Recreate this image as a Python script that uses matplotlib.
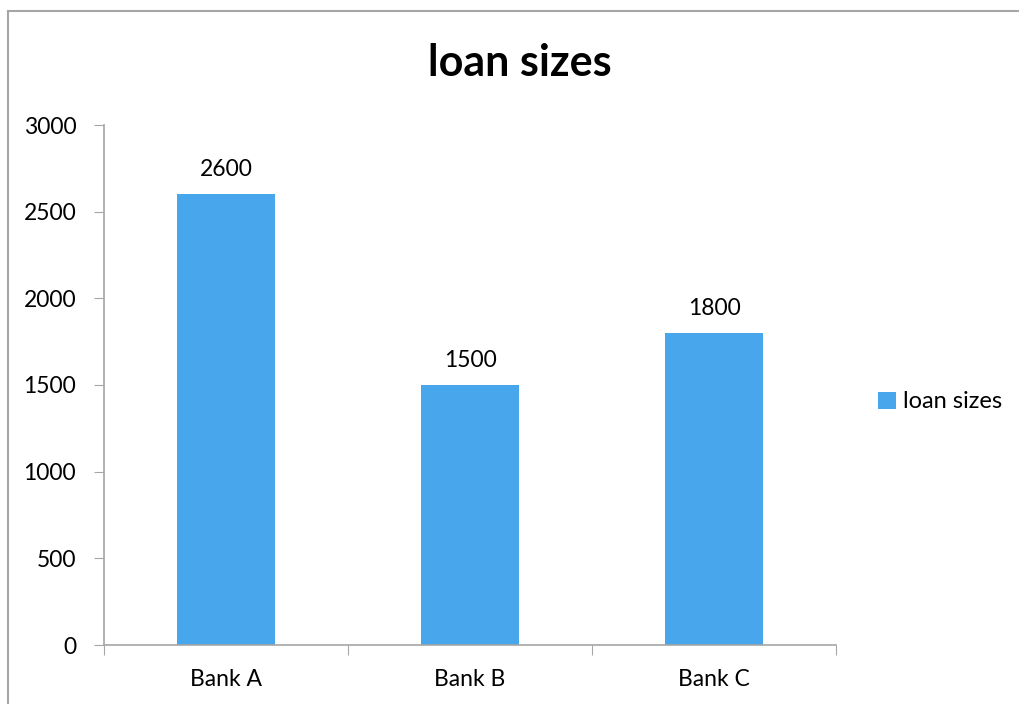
import matplotlib.pyplot as plt
from matplotlib.lines import Line2D

banks = ['Bank A', 'Bank B', 'Bank C']
loan_sizes = [2600, 1500, 1800]
y_ticks = [0, 500, 1000, 1500, 2000, 2500, 3000]

bar_color = '#47A6EC'
axis_color = '#A6A6A6'

plt.rcParams['font.family'] = ['Lato', 'DejaVu Sans']

fig = plt.figure(figsize=(10.19, 7.04), dpi=100)
ax = fig.add_axes([104 / 1019, 1 - 645 / 704, (836 - 104) / 1019, (645 - 125) / 704])

x = list(range(len(banks)))
bars = ax.bar(x, loan_sizes, width=0.4, color=bar_color, label='loan sizes')
for xi, v in zip(x, loan_sizes):
    ax.annotate(str(v), (xi, v), xytext=(0, 10), textcoords='offset points',
                ha='center', va='bottom', fontsize=16.5)

ax.set_xlim(-0.5, 2.5)
ax.set_ylim(0, 3000)
ax.set_yticks(y_ticks)
ax.set_xticks([-0.5, 0.5, 1.5, 2.5])
ax.set_xticklabels([])
ax.set_xticks(x, minor=True)
ax.set_xticklabels(banks, minor=True, fontsize=16.5)
ax.tick_params(axis='x', which='major', length=7, color=axis_color, direction='out')
ax.tick_params(axis='x', which='minor', length=0, pad=17)
ax.tick_params(axis='y', length=7, color=axis_color, labelsize=16.5, pad=13)

for side in ['top', 'right']:
    ax.spines[side].set_visible(False)
for side in ['left', 'bottom']:
    ax.spines[side].set_color(axis_color)
    ax.spines[side].set_linewidth(1.2)

fig.text(0.51, 1 - 63 / 704, 'loan sizes', ha='center', va='center',
         fontsize=31, fontweight='bold')

fig.legend(handles=[bars], loc='center left', bbox_to_anchor=(857 / 1019, 1 - 402 / 704),
           frameon=False, fontsize=17, handlelength=0.75, handleheight=0.75,
           handletextpad=0.3)

# outer chart frame (left and top edges)
fig.add_artist(Line2D([8 / 1019, 8 / 1019], [0, 1 - 11 / 704], transform=fig.transFigure,
                      color=axis_color, lw=1.5))
fig.add_artist(Line2D([8 / 1019, 1], [1 - 11 / 704, 1 - 11 / 704], transform=fig.transFigure,
                      color=axis_color, lw=1.5))

fig.savefig('out.png', dpi=100)
